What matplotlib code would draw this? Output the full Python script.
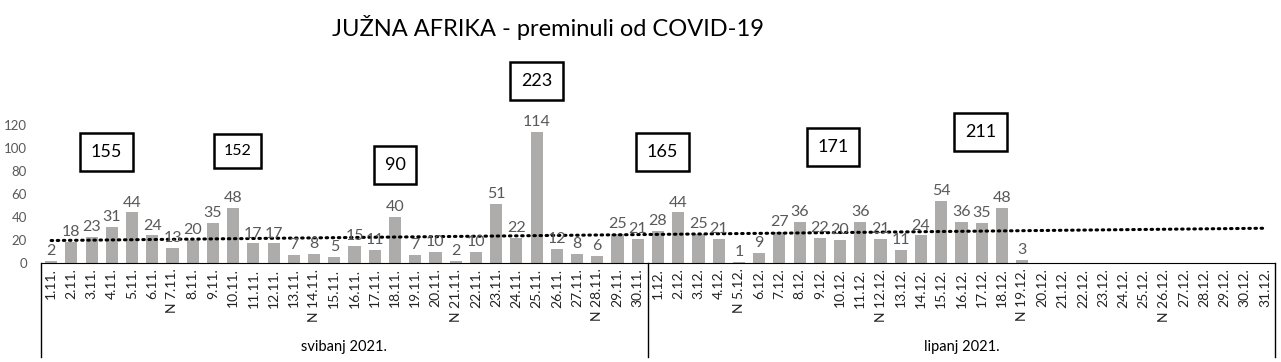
import numpy as np
import matplotlib
matplotlib.use('Agg')
import matplotlib.pyplot as plt
import matplotlib.transforms as mtransforms

plt.rcParams['font.family'] = ['Lato', 'DejaVu Sans']

# studeni (1.11.-30.11.) i prosinac (1.12.-31.12.)
nov_days = list(range(1, 31))
dec_days = list(range(1, 32))
nov_vals = [2, 18, 23, 31, 44, 24, 13, 20, 35, 48, 17, 17, 7, 8, 5, 15, 11, 40, 7, 10,
            2, 10, 51, 22, 114, 12, 8, 6, 25, 21]
dec_vals = [28, 44, 25, 21, 1, 9, 27, 36, 22, 20, 36, 21, 11, 24, 54, 36, 35, 48, 3] + [None] * 12
sunday_nov = [7, 14, 21, 28]
sunday_dec = [5, 12, 19, 26]
groups = ['svibanj 2021.', 'lipanj 2021.']

# tjedni zbrojevi (kutije)
week_sums = [155, 152, 90, 223, 165, 171, 211]
week_pos = [2.72, 9.2, 17.0, 24.0, 30.2, 38.65, 45.95]
week_y = [96.5, 97.4, 85.2, 158, 96.5, 100.9, 113.9]
week_fs = [13, 11.5, 13, 13, 13, 13, 13]

labels = [('N ' if d in sunday_nov else '') + f'{d}.11.' for d in nov_days] + \
         [('N ' if d in sunday_dec else '') + f'{d}.12.' for d in dec_days]
values = nov_vals + dec_vals
x = np.arange(len(labels))

fig = plt.figure(figsize=(12.81, 3.62), dpi=100)
ax = fig.add_axes([41 / 1281, 99 / 362, 1234 / 1281, 138 / 362])

bar_color = '#AEABAB'
for xi, v in zip(x, values):
    if v is None:
        continue
    ax.bar(xi, v, width=0.6, color=bar_color)
    ax.text(xi, v + 2.5, str(v), ha='center', va='bottom', fontsize=11.5, color='#595959')

# linearni trend
xs = np.array([xi for xi, v in zip(x, values) if v is not None])
ys = np.array([v for v in values if v is not None])
k, b = np.polyfit(xs, ys, 1)
ax.plot(x, k * x + b, color='black', lw=2.2, linestyle=(0, (0.5, 1.5)), dash_capstyle='round')

for s, px, py, fs in zip(week_sums, week_pos, week_y, week_fs):
    ax.text(px, py, str(s), ha='center', va='center', fontsize=fs, color='black',
            bbox=dict(boxstyle='square,pad=0.6', fc='white', ec='black', lw=1.8), clip_on=False)

ax.set_xlim(-0.5, len(labels) - 0.5)
ax.set_ylim(0, 120)
ax.set_yticks(range(0, 121, 20))
ax.tick_params(axis='y', length=0, labelsize=9.5, labelcolor='#595959', pad=10)
ax.set_xticks(x)
ax.set_xticklabels(labels, rotation=90, fontsize=10, color='#222222')
ax.tick_params(axis='x', length=0, pad=4)
for sp in ['top', 'right', 'left']:
    ax.spines[sp].set_visible(False)
ax.spines['bottom'].set_color('black')

# okviri grupa ispod osi
trans = mtransforms.blended_transform_factory(ax.transData, ax.transAxes)
for xv in [-0.5, 29.5, len(labels) - 0.5]:
    ax.plot([xv, xv], [0, -0.68], color='black', lw=1, transform=trans, clip_on=False)
ax.text(14.5, -0.61, groups[0], transform=trans, ha='center', va='center', fontsize=10.5)
ax.text(45.0, -0.61, groups[1], transform=trans, ha='center', va='center', fontsize=10.5)

fig.text(548 / 1281, 1 - 28 / 362, 'JUŽNA AFRIKA - preminuli od COVID-19', ha='center',
         va='center', fontsize=17)

fig.savefig('out.png', dpi=100)
